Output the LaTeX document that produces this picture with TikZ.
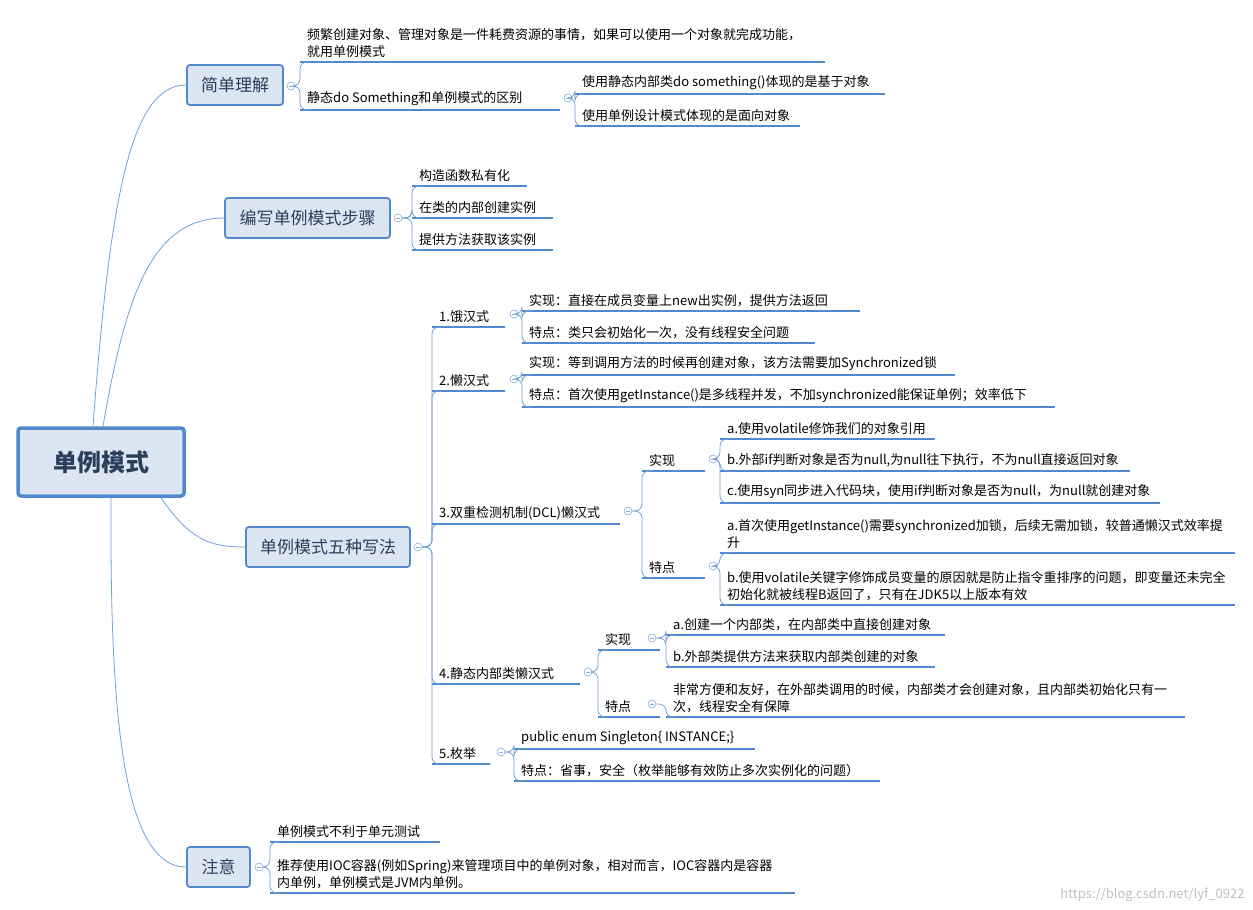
\documentclass[tikz,border=0pt]{standalone}
\usepackage{fontspec}
\setmainfont{Noto Sans CJK SC}
\usetikzlibrary{positioning,calc}
\definecolor{mmblue}{HTML}{5189CC}
\definecolor{mmfill}{HTML}{DCE6F2}
\definecolor{mmtext}{HTML}{2B3F5C}
\tikzset{
  uline/.style={mmblue,line width=2pt},
  conn/.style={mmblue!80,line width=0.8pt,rounded corners=7pt},
  leaftext/.style={inner sep=1pt,align=left,font=\fontsize{13}{17}\selectfont},
  branch/.style={draw=mmblue,fill=mmfill,line width=1.8pt,rounded corners=3pt,
    text=mmtext,font=\fontsize{17}{20}\selectfont,inner sep=0pt},
  foldc/.style={circle,draw=mmblue!70,line width=0.6pt,minimum size=8pt,inner sep=0pt,
    path picture={\draw[mmblue!70,line width=0.6pt] ([xshift=-2pt]path picture bounding box.center) -- ([xshift=2pt]path picture bounding box.center);}}
}
% leaf: name, x start, x end, underline y, text
\newcommand\leaf[5]{%
  \coordinate (#1) at (#2,#4);
  \draw[uline] (#1) -- (#3,#4);
  \node[leaftext,anchor=south west] (#1-t) at (#2+6,#4-3) {#5};}
% connector from a fold circle to a leaf
\newcommand\link[2]{\draw[conn] (#1.east) -| (#2) -- ++(10,0);}
\begin{document}
\begin{tikzpicture}[x=1pt,y=-1pt]
  \useasboundingbox[fill=white] (0,0) rectangle (1253,910);
  %%%%% ROOT AND BRANCHES
  \node[branch,line width=3.5pt,minimum width=166pt,minimum height=68pt,
    font=\fontsize{24}{28}\selectfont\bfseries] (root) at (101,462) {单例模式};
  \node[branch,minimum width=96pt,minimum height=40pt] (b1) at (235,85) {简单理解};
  \node[branch,minimum width=165pt,minimum height=40pt] (b2) at (307.5,218) {编写单例模式步骤};
  \node[branch,minimum width=164pt,minimum height=40pt] (b3) at (328,547) {单例模式五种写法};
  \node[branch,minimum width=63pt,minimum height=40pt] (b4) at (218.5,867) {注意};
  \draw[conn] ([xshift=-8pt]root.north) .. controls (110,200) and (130,85) .. (b1.west);
  \draw[conn] ([xshift=2pt]root.north) .. controls (125,300) and (150,218) .. (b2.west);
  \draw[conn] ([xshift=60pt]root.south) .. controls (190,540) and (210,547) .. (b3.west);
  \draw[conn] ([xshift=10pt]root.south) .. controls (110,700) and (120,867) .. (b4.west);
  %%%%% BRANCH 1
  \node[foldc] (b1-c) at (291,86) {};
  \leaf{l11}{300}{825}{62}{频繁创建对象、管理对象是一件耗费资源的事情，如果可以使用一个对象就完成功能，\\就用单例模式}
  \leaf{l12}{300}{560}{110}{静态do Something和单例模式的区别}
  \link{b1-c}{l11} \link{b1-c}{l12}
  \node[foldc] (l12-c) at (568,98) {};
  \leaf{l121}{575}{885}{94}{使用静态内部类do something()体现的是基于对象}
  \leaf{l122}{575}{800}{126}{使用单例设计模式体现的是面向对象}
  \link{l12-c}{l121} \link{l12-c}{l122}
  %%%%% BRANCH 2
  \node[foldc] (b2-c) at (398,218) {};
  \leaf{l21}{412}{527}{186}{构造函数私有化}
  \leaf{l22}{412}{553}{218}{在类的内部创建实例}
  \leaf{l23}{412}{553}{250}{提供方法获取该实例}
  \link{b2-c}{l21} \link{b2-c}{l22} \link{b2-c}{l23}
  %%%%% BRANCH 3
  \node[foldc] (b3-c) at (418,547) {};
  \leaf{e}{432}{505}{327}{1.饿汉式}
  \leaf{l}{432}{505}{391}{2.懒汉式}
  \leaf{d}{432}{620}{524}{3.双重检测机制(DCL)懒汉式}
  \leaf{s}{432}{580}{684}{4.静态内部类懒汉式}
  \leaf{m}{432}{490}{764}{5.枚举}
  \foreach \c in {e,l,d,s,m} {\link{b3-c}{\c}}
  % 1
  \node[foldc] (e-c) at (514,314) {};
  \leaf{e1}{522}{860}{311}{实现：直接在成员变量上new出实例，提供方法返回}
  \leaf{e2}{522}{815}{343}{特点：类只会初始化一次，没有线程安全问题}
  \link{e-c}{e1} \link{e-c}{e2}
  % 2
  \node[foldc] (l-c) at (514,379) {};
  \leaf{l1}{522}{955}{375}{实现：等到调用方法的时候再创建对象，该方法需要加Synchronized锁}
  \leaf{l2}{522}{1055}{407}{特点：首次使用getInstance()是多线程并发，不加synchronized能保证单例；效率低下}
  \link{l-c}{l1} \link{l-c}{l2}
  % 3
  \node[foldc] (d-c) at (628,511) {};
  \leaf{dr}{642}{705}{471}{实现}
  \leaf{dt}{642}{705}{578}{特点}
  \link{d-c}{dr} \link{d-c}{dt}
  \node[foldc] (dr-c) at (713,459) {};
  \leaf{dr1}{720}{935}{439}{a.使用volatile修饰我们的对象引用}
  \leaf{dr2}{720}{1130}{471}{b.外部if判断对象是否为null,为null往下执行，不为null直接返回对象}
  \leaf{dr3}{720}{1160}{503}{c.使用syn同步进入代码块，使用if判断对象是否为null，为null就创建对象}
  \link{dr-c}{dr1} \link{dr-c}{dr2} \link{dr-c}{dr3}
  \node[foldc] (dt-c) at (713,566) {};
  \leaf{dt1}{720}{1235}{553}{a.首次使用getInstance()需要synchronized加锁，后续无需加锁，较普通懒汉式效率提\\升}
  \leaf{dt2}{720}{1235}{605}{b.使用volatile关键字修饰成员变量的原因就是防止指令重排序的问题，即变量还未完全\\初始化就被线程B返回了，只有在JDK5以上版本有效}
  \link{dt-c}{dt1} \link{dt-c}{dt2}
  % 4
  \node[foldc] (s-c) at (588,672) {};
  \leaf{sr}{598}{660}{650}{实现}
  \leaf{st}{598}{660}{717}{特点}
  \link{s-c}{sr} \link{s-c}{st}
  \node[foldc] (sr-c) at (652,638) {};
  \leaf{sr1}{666}{945}{635}{a.创建一个内部类，在内部类中直接创建对象}
  \leaf{sr2}{666}{935}{667}{b.外部类提供方法来获取内部类创建的对象}
  \link{sr-c}{sr1} \link{sr-c}{sr2}
  \node[foldc] (st-c) at (652,704) {};
  \leaf{st1}{666}{1185}{717}{非常方便和友好，在外部类调用的时候，内部类才会创建对象，且内部类初始化只有一\\次，线程安全有保障}
  \link{st-c}{st1}
  % 5
  \node[foldc] (m-c) at (501,752) {};
  \leaf{m1}{514}{755}{749}{public enum Singleton\{ INSTANCE;\}}
  \leaf{m2}{514}{880}{781}{特点：省事，安全（枚举能够有效防止多次实例化的问题）}
  \link{m-c}{m1} \link{m-c}{m2}
  %%%%% BRANCH 4
  \node[foldc] (b4-c) at (259,867) {};
  \leaf{n1}{270}{440}{842}{单例模式不利于单元测试}
  \leaf{n2}{270}{795}{893}{推荐使用IOC容器(例如Spring)来管理项目中的单例对象，相对而言，IOC容器内是容器\\内单例，单例模式是JVM内单例。}
  \link{b4-c}{n1} \link{b4-c}{n2}
  \node[text=black!25,font=\fontsize{13}{15}\selectfont,anchor=south east] (wm) at (1248,905) {https://blog.csdn.net/lyf\_0922};
\end{tikzpicture}
\end{document}
